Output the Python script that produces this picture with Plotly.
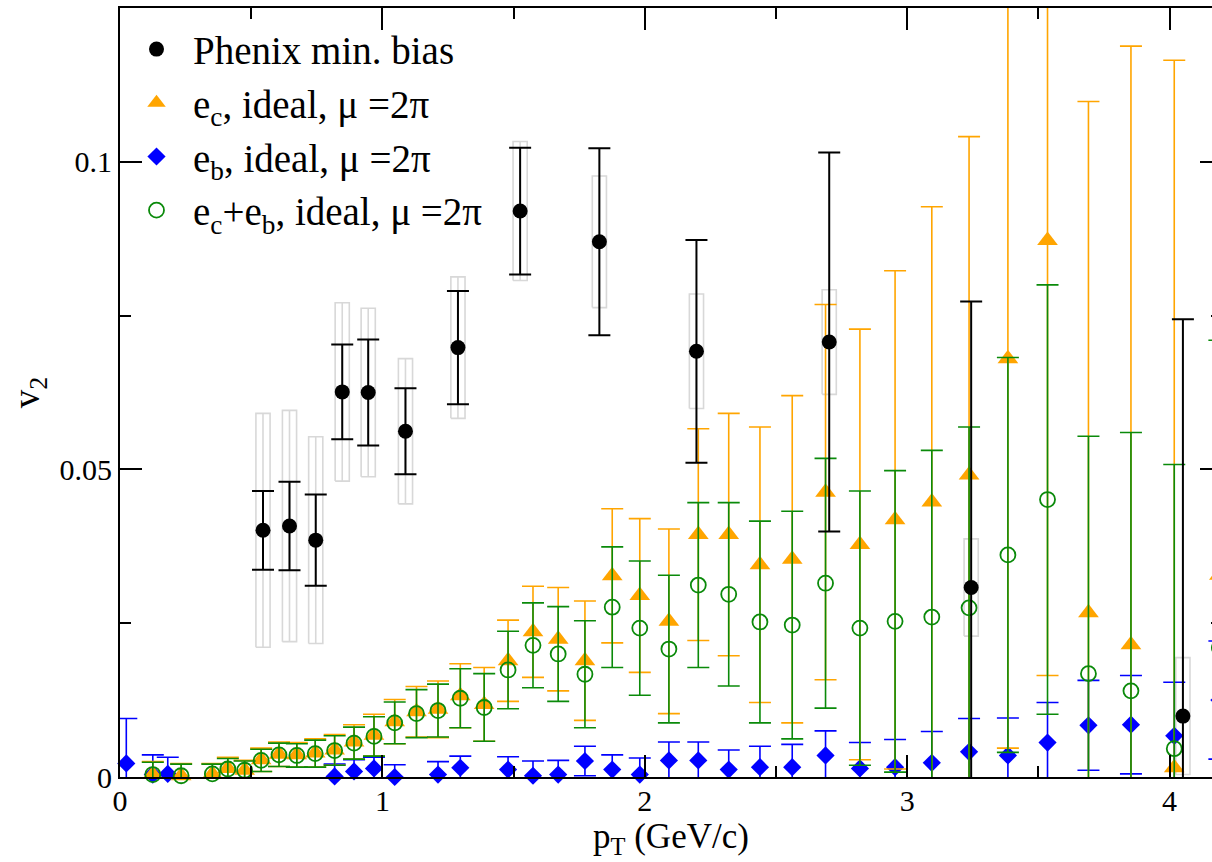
import plotly.graph_objects as go

# ---------------- data ----------------
# PHENIX minimum-bias measurement
phx = [0.545, 0.646, 0.746, 0.847, 0.946, 1.088, 1.288, 1.525, 1.827, 2.197, 2.703, 3.244, 4.051]
phy = [0.0401, 0.0408, 0.0385, 0.0626, 0.0625, 0.0562, 0.0698, 0.0920, 0.0870, 0.0692, 0.0707, 0.0308, 0.0099]
ph_err = [0.0064, 0.0072, 0.0074, 0.0077, 0.0086, 0.0070, 0.0092, 0.0103, 0.0152, 0.0181, 0.0308, 0.0465, 0.0645]
ph_sys = [0.0190, 0.0188, 0.0168, 0.0145, 0.0137, 0.0118, 0.0115, 0.0113, 0.0107, 0.0093, 0.0085, 0.0079, 0.0095]

# model pT grid
pt = [0.024, 0.125, 0.182, 0.233, 0.352, 0.411, 0.475, 0.538, 0.606, 0.674,
      0.744, 0.818, 0.892, 0.968, 1.047, 1.130, 1.212, 1.297, 1.388, 1.479,
      1.574, 1.670, 1.772, 1.876, 1.981, 2.092, 2.204, 2.320, 2.439, 2.562,
      2.689, 2.820, 2.954, 3.094, 3.236, 3.384, 3.535, 3.691, 3.853, 4.018, 4.190]

# e_c, ideal
ec_v2 = [None, 0.0004, None, 0.0002, 0.0005, 0.0014, 0.0011, 0.0028, 0.0037, 0.0036,
         0.0039, 0.0044, 0.0057, 0.0068, 0.0090, 0.0106, 0.0110, 0.0132, 0.0118, 0.0189,
         0.0236, 0.0224, 0.0189, 0.0327, 0.0295, 0.0253, 0.0394, 0.0394, 0.0345, 0.0354,
         0.0463, 0.0378, 0.0418, 0.0447, 0.0491, 0.0680, 0.0872, 0.0267, 0.0215, 0.0015, 0.0328]
ec_err = [None, 0.0021, None, 0.0020, 0.0017, 0.0018, 0.0016, 0.0019, 0.0020, 0.0020,
          0.0023, 0.0025, 0.0028, 0.0034, 0.0036, 0.0041, 0.0046, 0.0052, 0.0060, 0.0066,
          0.0074, 0.0084, 0.0097, 0.0109, 0.0125, 0.0150, 0.0172, 0.0197, 0.0224, 0.0266,
          0.0305, 0.0350, 0.0405, 0.0480, 0.0550, 0.0633, 0.0707, 0.0831, 0.0973, 0.1150, 0.1200]

# e_b, ideal
eb_v2 = [0.0022, 0.0004, 0.0005, None, None, None, None, None, None, None,
         None, 0.0001, 0.0009, 0.0014, 0.0000, None, 0.0004, 0.0015, None, 0.0012,
         0.0002, 0.0004, 0.0026, 0.0012, 0.0004, 0.0027, 0.0027, 0.0012, 0.0016, 0.0016,
         0.0035, 0.0014, 0.0016, 0.0023, 0.0041, 0.0035, 0.0056, 0.0084, 0.0085, 0.0067, 0.0125]
eb_err = [0.0073, 0.0032, 0.0027, None, None, None, None, None, None, None,
          None, 0.0020, 0.0019, 0.0018, 0.0020, None, 0.0021, 0.0019, None, 0.0021,
          0.0024, 0.0023, 0.0024, 0.0024, 0.0027, 0.0030, 0.0030, 0.0032, 0.0034, 0.0037,
          0.0040, 0.0042, 0.0045, 0.0051, 0.0054, 0.0061, 0.0065, 0.0073, 0.0080, 0.0087, 0.0096]

# e_c + e_b, ideal
ecb_v2 = [None, 0.0004, None, 0.0002, 0.0005, 0.0013, 0.0011, 0.0027, 0.0036, 0.0035,
          0.0038, 0.0043, 0.0055, 0.0066, 0.0088, 0.0103, 0.0108, 0.0128, 0.0113, 0.0174,
          0.0214, 0.0200, 0.0167, 0.0276, 0.0242, 0.0208, 0.0312, 0.0297, 0.0252, 0.0247,
          0.0315, 0.0242, 0.0253, 0.0260, 0.0275, 0.0361, 0.0451, 0.0168, 0.0140, 0.0046, 0.0210]
ecb_err = [None, 0.0020, None, 0.0019, 0.0016, 0.0017, 0.0015, 0.0018, 0.0019, 0.0019,
           0.0022, 0.0024, 0.0026, 0.0032, 0.0034, 0.0039, 0.0043, 0.0048, 0.0055, 0.0063,
           0.0069, 0.0077, 0.0087, 0.0098, 0.0109, 0.0120, 0.0134, 0.0149, 0.0164, 0.0185,
           0.0203, 0.0223, 0.0245, 0.0271, 0.0294, 0.0321, 0.0349, 0.0386, 0.0420, 0.0462, 0.0500]

x_ticks = [0, 1, 2, 3, 4]
y_ticks = [0, 0.05, 0.1]

# ---------------- style ----------------
FONT = "Liberation Serif"
ORANGE = "#FFA500"
BLUE = "#0000FF"
GREEN = "#0A8A0A"
GREY = "#D8D8D8"
BOX_HALF_W = 0.027

fig = go.Figure()

# systematic boxes of the PHENIX data
bx, by = [], []
for x, y, s in zip(phx, phy, ph_sys):
    x0, x1 = x - BOX_HALF_W, x + BOX_HALF_W
    bx += [x0, x1, x1, x0, x0, None, x, x, None]
    by += [y - s, y - s, y + s, y + s, y - s, None, y - s, y + s, None]
fig.add_trace(go.Scatter(x=bx, y=by, mode="lines", line=dict(color=GREY, width=1.6),
                         showlegend=False, hoverinfo="skip"))


def add_series(xv, yv, ev, name, color, symbol, size, lw, rank):
    # error bars (clipped to the frame)
    fig.add_trace(go.Scatter(
        x=xv, y=yv, mode="markers", showlegend=False, hoverinfo="skip",
        marker=dict(size=size, opacity=0),
        error_y=dict(type="data", array=ev, visible=True, color=color,
                     thickness=lw, width=11)))
    # markers (not clipped)
    fig.add_trace(go.Scatter(
        x=xv, y=yv, mode="markers", name=name, cliponaxis=False,
        legendrank=rank,
        marker=dict(symbol=symbol, size=size, color=color,
                    line=dict(color=color, width=1.8 if "open" in symbol else 0))))


add_series(pt, eb_v2, eb_err, "e<sub>b</sub>, ideal, μ =2π", BLUE, "diamond", 14, 1.6, 3)
add_series(pt, ec_v2, ec_err, "e<sub>c</sub>, ideal, μ =2π", ORANGE, "triangle-up", 18, 1.6, 2)
add_series(pt, ecb_v2, ecb_err, "e<sub>c</sub>+e<sub>b</sub>, ideal, μ =2π", GREEN, "circle-open", 15, 1.6, 4)

fig.add_trace(go.Scatter(
    x=phx, y=phy, mode="markers", name="Phenix min. bias", legendrank=1,
    marker=dict(symbol="circle", size=15, color="black"),
    error_y=dict(type="data", array=ph_err, visible=True, color="black",
                 thickness=2, width=11)))

axis_common = dict(
    showline=True, linecolor="black", linewidth=2, mirror="ticks",
    ticks="inside", ticklen=22, tickwidth=2, tickcolor="black",
    showgrid=False, zeroline=False,
    tickfont=dict(family=FONT, size=30, color="black"),
)

fig.update_xaxes(range=[0, 4.2], tickvals=x_ticks, ticktext=[str(v) for v in x_ticks],
                 ticklabelstandoff=-4,
                 minor=dict(dtick=0.5, ticks="inside", ticklen=11, tickwidth=2,
                            tickcolor="black", showgrid=False),
                 **axis_common)
fig.update_yaxes(range=[0, 0.125], tickvals=y_ticks, ticktext=["0", "0.05", "0.1"],
                 minor=dict(dtick=0.025, ticks="inside", ticklen=11, tickwidth=2,
                            tickcolor="black", showgrid=False),
                 **axis_common)

fig.add_annotation(text="p<sub>T</sub> (GeV/c)", xref="paper", yref="paper",
                   x=0.5, y=-0.1089, xanchor="center", yanchor="bottom", showarrow=False,
                   borderpad=0,
                   font=dict(family=FONT, size=35, color="black"))
fig.add_annotation(text="v<sub>2</sub>", xref="paper", yref="paper", textangle=-90,
                   x=-0.082, y=0.5, xanchor="center", yanchor="middle", showarrow=False,
                   font=dict(family=FONT, size=37, color="black"))

fig.update_layout(
    width=1240, height=862,
    margin=dict(l=120, r=18, t=6, b=85),
    paper_bgcolor="white", plot_bgcolor="white",
    font=dict(family=FONT, color="black"),
    legend=dict(x=0.0, y=0.988, xanchor="left", yanchor="top",
                bgcolor="rgba(0,0,0,0)", borderwidth=0,
                font=dict(family=FONT, size=39, color="black"),
                itemwidth=63, tracegroupgap=0),
)

fig.write_html("out.html",
               post_script="document.documentElement.style.overflow='hidden';"
                           "document.body.style.overflow='hidden';"
                           "document.body.style.margin='0';")
